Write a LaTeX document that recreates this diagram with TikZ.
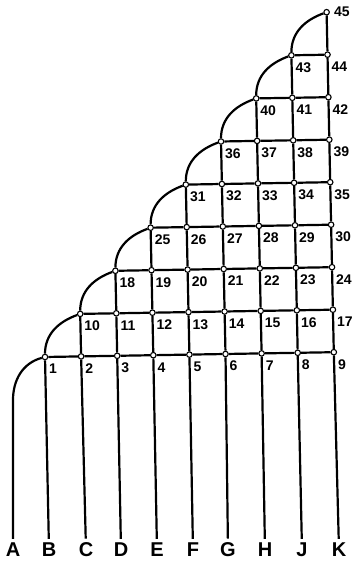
\documentclass[tikz,border=0pt]{standalone}
\usepackage{fontspec}
\setmainfont{Liberation Sans}
\tikzset{
	punto/.style={circle, draw, fill=white, line width=1.1pt, inner sep=0pt, minimum size=5.5pt},
	numero/.style={anchor=north west, inner sep=0pt, font=\fontsize{14}{14}\selectfont\bfseries},
	letra/.style={inner sep=4pt, font=\fontsize{20}{20}\selectfont\bfseries},
	linea/.style={line width=2.2pt}
}
\begin{document}
\begin{tikzpicture}[x=1pt,y=1pt]
	\useasboundingbox (0,0) rectangle (358,562);
	
	% Puntos de la red
	\foreach \r in {1,...,9}{
		\foreach \c in {\r,...,9}{
			\pgfmathtruncatemacro{\n}{10*(\r-1)-\r*(\r-1)/2+\c-\r+1}
			\node[punto] (p\r\c) at ({45+36.1*(\c-1)-0.9*(\r-1)},{205+42.5*(\r-1)+0.6*(\c-1)}) {};
			\ifnum\r<9
				\node[numero] (t\r\c) at ([shift={(4,-7)}]p\r\c) {\n};
			\fi
		}
	}
	\node[numero, anchor=west] (t99) at ([xshift=4pt]p99.east) {45};
	
	% Líneas horizontales
	\foreach \r in {1,...,8}{
		\foreach \c in {\r,...,8}{
			\pgfmathtruncatemacro{\d}{\c+1}
			\draw[linea] (p\r\c) -- (p\r\d);
		}
	}
	
	% Líneas verticales
	\foreach \r in {1,...,8}{
		\pgfmathtruncatemacro{\s}{\r+1}
		\foreach \c in {\s,...,9}{
			\draw[linea] (p\r\c) -- (p\s\c);
		}
	}
	
	% Curvas del borde
	\foreach \r in {1,...,8}{
		\pgfmathtruncatemacro{\s}{\r+1}
		\draw[linea] (p\s\s) to[out=200,in=90] (p\r\r);
	}
	
	% Letras y columnas
	\foreach \l/\x in {A/13,B/49,C/86,D/121,E/157,F/193,G/228,H/265,J/302,K/339}{
		\node[letra] (\l) at (\x,12) {\l};
	}
	\coordinate (a) at (13,162);
	\draw[linea] (p11) to[out=195,in=90] (a) -- (A);
	\foreach \l [count=\c] in {B,C,D,E,F,G,H,J,K}{
		\draw[linea] (p1\c) -- (\l);
	}
\end{tikzpicture}
\end{document}
